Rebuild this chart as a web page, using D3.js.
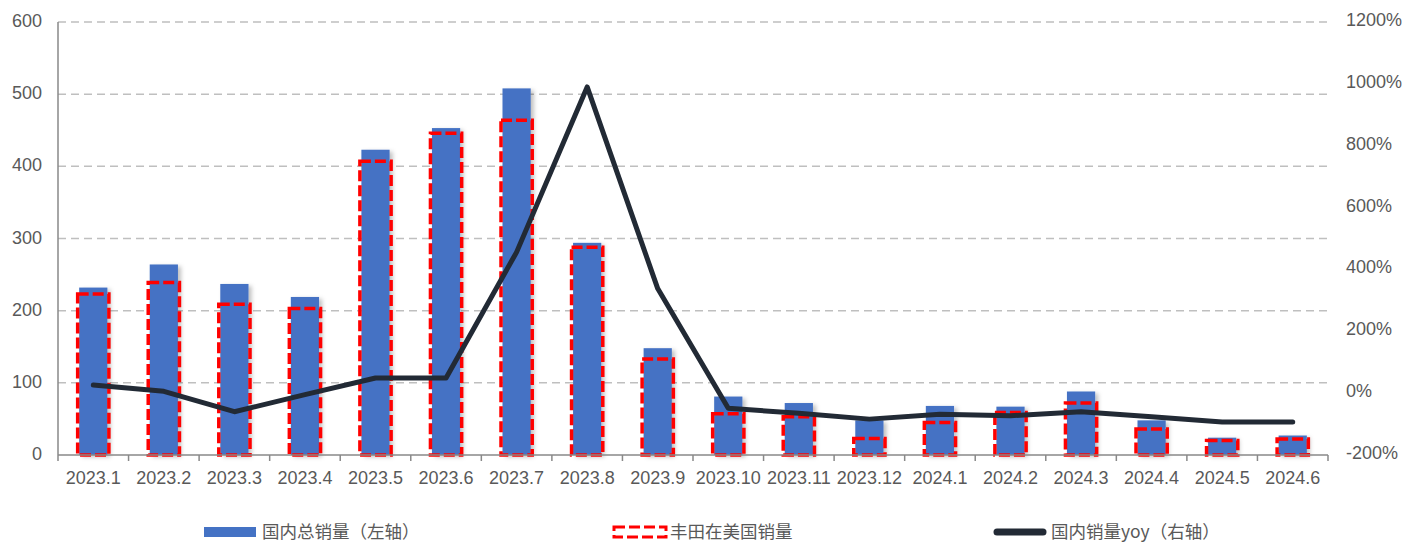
<!DOCTYPE html>
<html>
<head>
<meta charset="utf-8">
<script src="https://cdn.jsdelivr.net/npm/d3@7"></script>
<style>
	body { margin: 0; background: #fff; }
	text { font-family: "Liberation Sans", Arial, sans-serif; }
</style>
</head>
<body>
<script>
// categories and series
var months = ["2023.1","2023.2","2023.3","2023.4","2023.5","2023.6","2023.7","2023.8","2023.9",
	"2023.10","2023.11","2023.12","2024.1","2024.2","2024.3","2024.4","2024.5","2024.6"];
var totalSales = [232, 264, 237, 219, 423, 453, 508, 294, 148, 81, 72, 48, 68, 67, 88, 48, 24, 27];
var toyotaUS = [223, 239, 209, 203, 407, 446, 464, 288, 133, 57, 53, 23, 45, 59, 72, 36, 20, 22];
var yoy = [26, 6, -60, -5, 49, 49, 456, 990, 338, -49, -65, -84, -68, -73, -60, -76, -93, -93];
var leftTicks = [0, 100, 200, 300, 400, 500, 600];
var rightTicks = [-200, 0, 200, 400, 600, 800, 1000, 1200];
var legendNames = ["国内总销量（左轴）", "丰田在美国销量", "国内销量yoy（右轴）"];

var W = 1403, H = 543,
	margin = {top: 22, right: 75, bottom: 88, left: 58};

var svg = d3.select("body").append("svg")
	.attr("width", W)
	.attr("height", H);

// soft shadow under the bars
var defs = svg.append("defs");
defs.append("filter").attr("id", "shadow")
	.attr("x", "-20%").attr("y", "-5%").attr("width", "150%").attr("height", "115%")
	.append("feDropShadow")
		.attr("dx", 3).attr("dy", 2).attr("stdDeviation", 2)
		.attr("flood-color", "#000").attr("flood-opacity", 0.25);

var x = d3.scaleBand().domain(months).range([margin.left, W - margin.right]);
var yL = d3.scaleLinear().domain([0, 600]).range([H - margin.bottom, margin.top]);
var yR = d3.scaleLinear().domain([-200, 1200]).range([H - margin.bottom, margin.top]);

//gridlines
svg.append("g").selectAll("line")
	.data(leftTicks.filter(function(d){ return d > 0; })).enter()
		.append("line")
		.attr("x1", margin.left).attr("x2", W - margin.right)
		.attr("y1", function(d){ return yL(d); })
		.attr("y2", function(d){ return yL(d); })
		.style("stroke", "#bfbfbf")
		.style("stroke-width", 1.5)
		.style("stroke-dasharray", "8,5");

//blue bars
var barW = x.bandwidth() * 0.4;
svg.append("g").attr("filter", "url(#shadow)").selectAll("rect")
	.data(totalSales).enter()
		.append("rect")
		.attr("x", function(d, i){ return x(months[i]) + x.bandwidth()/2 - barW/2; })
		.attr("y", function(d){ return yL(d); })
		.attr("width", barW)
		.attr("height", function(d){ return yL(0) - yL(d); })
		.style("fill", "#4472c4");

//red dashed outlines
var redW = barW + 3;
svg.append("g").selectAll("rect")
	.data(toyotaUS).enter()
		.append("rect")
		.attr("x", function(d, i){ return x(months[i]) + x.bandwidth()/2 - redW/2; })
		.attr("y", function(d){ return yL(d); })
		.attr("width", redW)
		.attr("height", function(d){ return yL(0) - yL(d); })
		.style("fill", "none")
		.style("stroke", "#ff0000")
		.style("stroke-width", 3.5)
		.style("stroke-dasharray", "11,4");

//yoy line
var line = d3.line()
	.x(function(d, i){ return x(months[i]) + x.bandwidth()/2; })
	.y(function(d){ return yR(d); });
svg.append("path")
	.datum(yoy)
	.attr("d", line)
	.style("fill", "none")
	.style("stroke", "#222a35")
	.style("stroke-width", 5)
	.style("stroke-linejoin", "round")
	.style("stroke-linecap", "round");

//axes
var gX = svg.append("g")
	.attr("transform", "translate(0," + yL(0) + ")");
gX.append("line")
	.attr("x1", margin.left).attr("x2", W - margin.right)
	.style("stroke", "#898989").style("stroke-width", 1.5);
gX.selectAll(".tick")
	.data(months.concat(["end"])).enter()
		.append("line")
		.attr("x1", function(d, i){ return margin.left + i * x.step(); })
		.attr("x2", function(d, i){ return margin.left + i * x.step(); })
		.attr("y1", 0).attr("y2", 6)
		.style("stroke", "#898989").style("stroke-width", 1.5);
gX.selectAll("text")
	.data(months).enter()
		.append("text")
		.attr("x", function(d){ return x(d) + x.bandwidth()/2; })
		.attr("y", 29)
		.style("text-anchor", "middle")
		.style("font-size", "18px")
		.style("fill", "#595959")
		.text(function(d){ return d; });

svg.append("line")
	.attr("x1", margin.left).attr("x2", margin.left)
	.attr("y1", margin.top).attr("y2", yL(0))
	.style("stroke", "#898989").style("stroke-width", 1.5);
svg.append("g").selectAll("text")
	.data(leftTicks).enter()
		.append("text")
		.attr("x", 42)
		.attr("y", function(d){ return yL(d) + 5; })
		.style("text-anchor", "end")
		.style("font-size", "18px")
		.style("fill", "#595959")
		.text(function(d){ return d; });

svg.append("g").selectAll("text")
	.data(rightTicks).enter()
		.append("text")
		.attr("x", 1346)
		.attr("y", function(d){ return yR(d) + 4; })
		.style("text-anchor", "start")
		.style("font-size", "18px")
		.style("fill", "#595959")
		.text(function(d){ return d + "%"; });

//legend
var legendX = [204, 612, 993], legendY = 532;
var lg = svg.append("g");
lg.append("rect")
	.attr("x", legendX[0]).attr("y", legendY - 5)
	.attr("width", 52).attr("height", 10)
	.style("fill", "#4472c4");
lg.append("rect")
	.attr("x", legendX[1] + 2).attr("y", legendY - 5)
	.attr("width", 52).attr("height", 10)
	.style("fill", "none")
	.style("stroke", "#ff0000")
	.style("stroke-width", 3)
	.style("stroke-dasharray", "11,4");
lg.append("line")
	.attr("x1", legendX[2] + 4).attr("x2", legendX[2] + 50)
	.attr("y1", legendY).attr("y2", legendY)
	.style("stroke", "#222a35")
	.style("stroke-width", 7)
	.style("stroke-linecap", "round");
lg.selectAll("text")
	.data(legendNames).enter()
		.append("text")
		.attr("x", function(d, i){ return legendX[i] + 58; })
		.attr("y", legendY + 6)
		.style("font-family", "'Noto Sans CJK SC', sans-serif")
		.style("font-size", "17.5px")
		.style("fill", "#595959")
		.text(function(d){ return d; });
</script>
</body>
</html>
